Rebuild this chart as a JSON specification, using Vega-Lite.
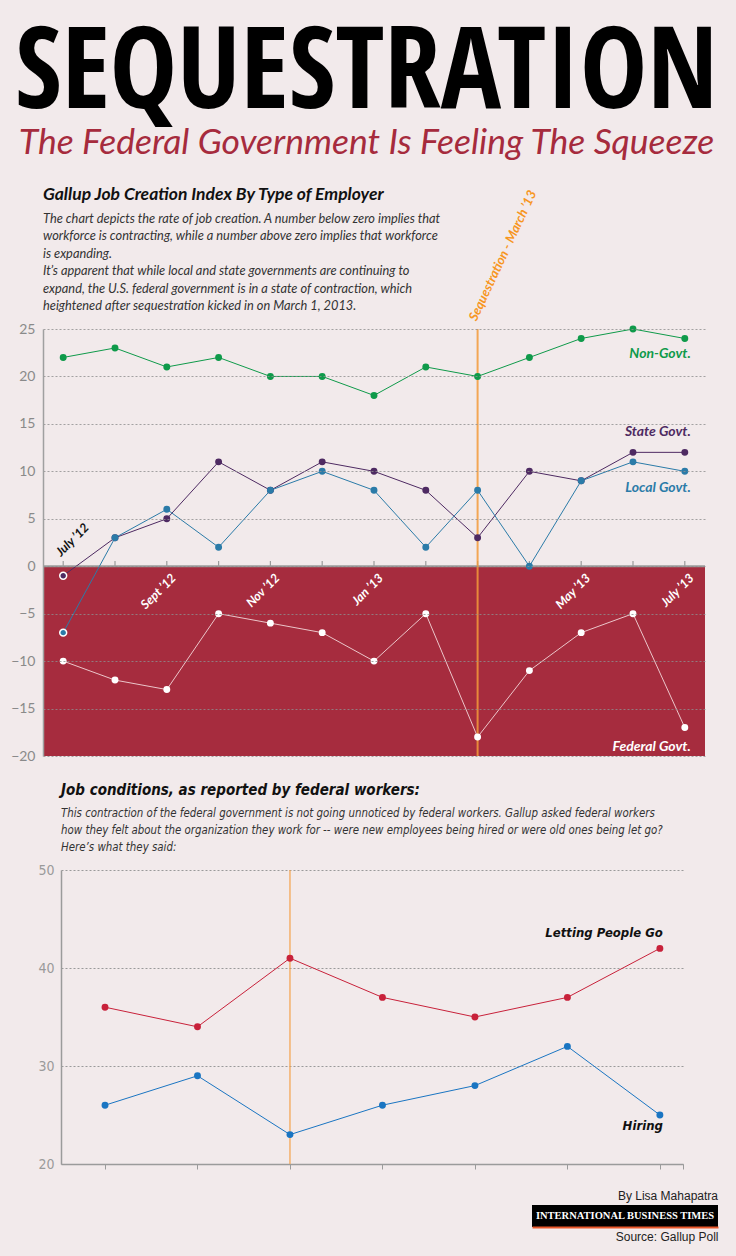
{
  "$schema": "https://vega.github.io/schema/vega-lite/v6.json",
  "background": "#f2eaeb",
  "padding": {"left": 7, "right": 18, "top": 18, "bottom": 20},
  "spacing": 19,
  "title": {
    "text": "SEQUESTRATION",
    "subtitle": "The Federal Government Is Feeling The Squeeze",
    "anchor": "middle",
    "dx": 4,
    "font": "Open Sans Condensed, DejaVu Sans Condensed",
    "fontSize": 113,
    "fontWeight": "bold",
    "color": "#000000",
    "subtitleFont": "Lato",
    "subtitleFontStyle": "italic",
    "subtitleFontSize": 35.5,
    "subtitleColor": "#a62b3d",
    "subtitlePadding": -6,
    "offset": 23.5
  },
  "resolve": {"scale": {"color": "independent", "fill": "independent", "stroke": "independent"}},
  "datasets": {
    "jobs": [
      {"month": "2012-07", "series": "Non-Govt.", "value": 22},
      {"month": "2012-08", "series": "Non-Govt.", "value": 23},
      {"month": "2012-09", "series": "Non-Govt.", "value": 21},
      {"month": "2012-10", "series": "Non-Govt.", "value": 22},
      {"month": "2012-11", "series": "Non-Govt.", "value": 20},
      {"month": "2012-12", "series": "Non-Govt.", "value": 20},
      {"month": "2013-01", "series": "Non-Govt.", "value": 18},
      {"month": "2013-02", "series": "Non-Govt.", "value": 21},
      {"month": "2013-03", "series": "Non-Govt.", "value": 20},
      {"month": "2013-04", "series": "Non-Govt.", "value": 22},
      {"month": "2013-05", "series": "Non-Govt.", "value": 24},
      {"month": "2013-06", "series": "Non-Govt.", "value": 25},
      {"month": "2013-07", "series": "Non-Govt.", "value": 24},
      {"month": "2012-07", "series": "State Govt.", "value": -1},
      {"month": "2012-08", "series": "State Govt.", "value": 3},
      {"month": "2012-09", "series": "State Govt.", "value": 5},
      {"month": "2012-10", "series": "State Govt.", "value": 11},
      {"month": "2012-11", "series": "State Govt.", "value": 8},
      {"month": "2012-12", "series": "State Govt.", "value": 11},
      {"month": "2013-01", "series": "State Govt.", "value": 10},
      {"month": "2013-02", "series": "State Govt.", "value": 8},
      {"month": "2013-03", "series": "State Govt.", "value": 3},
      {"month": "2013-04", "series": "State Govt.", "value": 10},
      {"month": "2013-05", "series": "State Govt.", "value": 9},
      {"month": "2013-06", "series": "State Govt.", "value": 12},
      {"month": "2013-07", "series": "State Govt.", "value": 12},
      {"month": "2012-07", "series": "Local Govt.", "value": -7},
      {"month": "2012-08", "series": "Local Govt.", "value": 3},
      {"month": "2012-09", "series": "Local Govt.", "value": 6},
      {"month": "2012-10", "series": "Local Govt.", "value": 2},
      {"month": "2012-11", "series": "Local Govt.", "value": 8},
      {"month": "2012-12", "series": "Local Govt.", "value": 10},
      {"month": "2013-01", "series": "Local Govt.", "value": 8},
      {"month": "2013-02", "series": "Local Govt.", "value": 2},
      {"month": "2013-03", "series": "Local Govt.", "value": 8},
      {"month": "2013-04", "series": "Local Govt.", "value": 0},
      {"month": "2013-05", "series": "Local Govt.", "value": 9},
      {"month": "2013-06", "series": "Local Govt.", "value": 11},
      {"month": "2013-07", "series": "Local Govt.", "value": 10},
      {"month": "2012-07", "series": "Federal Govt.", "value": -10},
      {"month": "2012-08", "series": "Federal Govt.", "value": -12},
      {"month": "2012-09", "series": "Federal Govt.", "value": -13},
      {"month": "2012-10", "series": "Federal Govt.", "value": -5},
      {"month": "2012-11", "series": "Federal Govt.", "value": -6},
      {"month": "2012-12", "series": "Federal Govt.", "value": -7},
      {"month": "2013-01", "series": "Federal Govt.", "value": -10},
      {"month": "2013-02", "series": "Federal Govt.", "value": -5},
      {"month": "2013-03", "series": "Federal Govt.", "value": -18},
      {"month": "2013-04", "series": "Federal Govt.", "value": -11},
      {"month": "2013-05", "series": "Federal Govt.", "value": -7},
      {"month": "2013-06", "series": "Federal Govt.", "value": -5},
      {"month": "2013-07", "series": "Federal Govt.", "value": -17}
    ],
    "fed": [
      {"idx": 0, "series": "Letting People Go", "value": 36},
      {"idx": 1, "series": "Letting People Go", "value": 34},
      {"idx": 2, "series": "Letting People Go", "value": 41},
      {"idx": 3, "series": "Letting People Go", "value": 37},
      {"idx": 4, "series": "Letting People Go", "value": 35},
      {"idx": 5, "series": "Letting People Go", "value": 37},
      {"idx": 6, "series": "Letting People Go", "value": 42},
      {"idx": 0, "series": "Hiring", "value": 26},
      {"idx": 1, "series": "Hiring", "value": 29},
      {"idx": 2, "series": "Hiring", "value": 23},
      {"idx": 3, "series": "Hiring", "value": 26},
      {"idx": 4, "series": "Hiring", "value": 28},
      {"idx": 5, "series": "Hiring", "value": 32},
      {"idx": 6, "series": "Hiring", "value": 25}
    ]
  },
  "vconcat": [
    {
      "spacing": 0,
      "hconcat": [
        {"width": 3, "height": 1, "data": {"values": [{}]}, "mark": "text", "encoding": {"text": {"value": ""}}},
        {
          "width": 662,
          "height": 427,
          "title": {
            "text": "Gallup Job Creation Index By Type of Employer",
            "subtitle": [
              "The chart depicts the rate of job creation. A number below zero implies that",
              "workforce is contracting, while a number above zero implies that workforce",
              "is expanding.",
              "It’s apparent that while local and state governments are continuing to",
              "expand, the U.S. federal government is in a state of  contraction, which",
              "heightened after sequestration kicked in on March 1, 2013."
            ],
            "anchor": "start",
            "frame": "group",
            "font": "Lato",
            "fontSize": 17.5,
            "fontStyle": "italic",
            "fontWeight": "bold",
            "color": "#111111",
            "subtitleFont": "Lato",
            "subtitleFontSize": 12.8,
            "subtitleFontStyle": "italic",
            "subtitleColor": "#333333",
            "subtitleLineHeight": 17.4,
            "subtitlePadding": 9,
            "offset": -124
          },
          "layer": [
            {
              "data": {"values": [{"top": 0, "bottom": -20}]},
              "mark": {"type": "rect", "color": "#a62c3e"},
              "encoding": {
                "x": {"value": 0},
                "x2": {"value": "width"},
                "y": {
                  "field": "top", "type": "quantitative",
                  "scale": {"domain": [-20, 25], "nice": false, "zero": false},
                  "axis": {
                    "values": [-20, -15, -10, -5, 0, 5, 10, 15, 20, 25],
                    "title": null, "ticks": false,
                    "domainColor": "#a0a0a0", "domainWidth": 1.5,
                    "gridColor": "#8f8f8f", "gridDash": [2, 2], "gridOpacity": 0.8,
                    "labelColor": "#8a8a8a", "labelFont": "Lato", "labelFontSize": 14,
                    "labelPadding": 8, "zindex": 1
                  }
                },
                "y2": {"field": "bottom"}
              }
            },
            {
              "data": {"values": [{"top": 0}]},
              "mark": {"type": "rule", "color": "#9b9b9b", "strokeWidth": 2},
              "encoding": {"y": {"field": "top", "type": "quantitative"}}
            },
            {
              "data": {"name": "jobs"},
              "transform": [{"filter": "datum.series === 'Non-Govt.'"}],
              "mark": {"type": "rule", "color": "#9b9b9b", "strokeWidth": 1.2},
              "encoding": {
                "x": {"field": "month", "type": "ordinal", "scale": {"type": "point", "padding": 0.39}, "axis": null},
                "y": {"datum": 0},
                "y2": {"datum": 0.55}
              }
            },
            {
              "data": {"values": [{"month": "2013-03", "event": "Sequestration - March ’13"}]},
              "mark": {"type": "rule", "color": "#f39a3a", "strokeWidth": 2, "opacity": 0.85},
              "encoding": {"x": {"field": "month", "type": "ordinal", "axis": null}}
            },
            {
              "data": {"values": [{"month": "2013-03", "event": "Sequestration - March ’13"}]},
              "mark": {"type": "text", "angle": -65, "align": "left", "baseline": "alphabetic", "dx": 6, "dy": -4, "font": "Lato", "fontStyle": "italic", "fontWeight": "bold", "fontSize": 13, "color": "#f7961f"},
              "encoding": {
                "x": {"field": "month", "type": "ordinal", "axis": null},
                "y": {"datum": 25},
                "text": {"field": "event"}
              }
            },
            {
              "data": {"name": "jobs"},
              "mark": {"type": "line", "strokeWidth": 1},
              "encoding": {
                "x": {"field": "month", "type": "ordinal", "axis": null},
                "y": {"field": "value", "type": "quantitative"},
                "stroke": {
                  "field": "series", "type": "nominal", "legend": null,
                  "scale": {"domain": ["Non-Govt.", "State Govt.", "Local Govt.", "Federal Govt."], "range": ["#0f9a4a", "#4e2a62", "#2b7ba8", "#ecc6ca"]}
                }
              }
            },
            {
              "data": {"name": "jobs"},
              "mark": {"type": "point", "filled": true, "size": 48, "strokeWidth": 1.5, "opacity": 1},
              "encoding": {
                "x": {"field": "month", "type": "ordinal", "axis": null},
                "y": {"field": "value", "type": "quantitative"},
                "fill": {
                  "field": "series", "type": "nominal", "legend": null,
                  "scale": {"domain": ["Non-Govt.", "State Govt.", "Local Govt.", "Federal Govt."], "range": ["#0f9a4a", "#4e2a62", "#2b7ba8", "#ffffff"]}
                },
                "stroke": {
                  "condition": {"test": "datum.value < 0 && datum.series !== 'Federal Govt.'", "value": "#ffffff"},
                  "value": "transparent"
                }
              }
            },
            {
              "data": {"name": "jobs"},
              "transform": [{"filter": "datum.series === 'Non-Govt.' && datum.month === '2013-07'"}],
              "mark": {"type": "text", "align": "right", "baseline": "middle", "dx": 6, "dy": 15.5, "font": "Lato", "fontSize": 14, "fontStyle": "italic", "fontWeight": "bold", "color": "#0f9a4a"},
              "encoding": {"x": {"field": "month", "type": "ordinal", "axis": null}, "y": {"field": "value", "type": "quantitative"}, "text": {"field": "series"}}
            },
            {
              "data": {"name": "jobs"},
              "transform": [{"filter": "datum.series === 'State Govt.' && datum.month === '2013-07'"}],
              "mark": {"type": "text", "align": "right", "baseline": "middle", "dx": 6, "dy": -20, "font": "Lato", "fontSize": 14, "fontStyle": "italic", "fontWeight": "bold", "color": "#4e2a62"},
              "encoding": {"x": {"field": "month", "type": "ordinal", "axis": null}, "y": {"field": "value", "type": "quantitative"}, "text": {"field": "series"}}
            },
            {
              "data": {"name": "jobs"},
              "transform": [{"filter": "datum.series === 'Local Govt.' && datum.month === '2013-07'"}],
              "mark": {"type": "text", "align": "right", "baseline": "middle", "dx": 6, "dy": 17, "font": "Lato", "fontSize": 14, "fontStyle": "italic", "fontWeight": "bold", "color": "#2b7ba8"},
              "encoding": {"x": {"field": "month", "type": "ordinal", "axis": null}, "y": {"field": "value", "type": "quantitative"}, "text": {"field": "series"}}
            },
            {
              "data": {"name": "jobs"},
              "transform": [{"filter": "datum.series === 'Federal Govt.' && datum.month === '2013-07'"}],
              "mark": {"type": "text", "align": "right", "baseline": "middle", "dx": 6, "dy": 19, "font": "Lato", "fontSize": 14, "fontStyle": "italic", "fontWeight": "bold", "color": "#ffffff"},
              "encoding": {"x": {"field": "month", "type": "ordinal", "axis": null}, "y": {"field": "value", "type": "quantitative"}, "text": {"field": "series"}}
            },
            {
              "data": {"values": [{"month": "2012-07", "label": "July ’12"}]},
              "mark": {"type": "text", "angle": -45, "align": "left", "baseline": "alphabetic", "dx": 5, "dy": -8, "font": "Lato", "fontSize": 12.5, "fontStyle": "italic", "fontWeight": "bold", "color": "#111111"},
              "encoding": {"x": {"field": "month", "type": "ordinal", "axis": null}, "y": {"datum": 0}, "text": {"field": "label"}}
            },
            {
              "data": {"values": [
                {"month": "2012-09", "label": "Sept ’12"},
                {"month": "2012-11", "label": "Nov ’12"},
                {"month": "2013-01", "label": "Jan ’13"},
                {"month": "2013-05", "label": "May ’13"},
                {"month": "2013-07", "label": "July ’13"}
              ]},
              "mark": {"type": "text", "angle": -45, "align": "right", "baseline": "alphabetic", "dx": -2, "dy": 16, "font": "Lato", "fontSize": 12.5, "fontStyle": "italic", "fontWeight": "bold", "color": "#ffffff"},
              "encoding": {"x": {"field": "month", "type": "ordinal", "axis": null}, "y": {"datum": 0}, "text": {"field": "label"}}
            }
          ]
        }
      ]
    },
    {
      "spacing": 0,
      "hconcat": [
        {"width": 30, "height": 1, "data": {"values": [{}]}, "mark": "text", "encoding": {"text": {"value": ""}}},
        {
          "width": 622,
          "height": 294,
          "title": {
            "text": "Job conditions, as reported by federal workers:",
            "subtitle": [
              "This contraction of the federal government is not going unnoticed by federal workers.  Gallup asked federal workers",
              "how they felt about the organization they work for -- were new employees being hired  or were old ones being let go?",
              "Here’s what they said:"
            ],
            "anchor": "start",
            "frame": "group",
            "font": "DejaVu Sans Condensed",
            "fontSize": 15,
            "fontStyle": "italic",
            "fontWeight": "bold",
            "color": "#111111",
            "subtitleFont": "DejaVu Sans Condensed",
            "subtitleFontSize": 11.4,
            "subtitleFontStyle": "italic",
            "subtitleColor": "#333333",
            "subtitleLineHeight": 17,
            "subtitlePadding": 10,
            "offset": 10
          },
          "layer": [
            {
              "data": {"values": [{"idx": 2}]},
              "mark": {"type": "rule", "color": "#f5a24a", "strokeWidth": 1.2},
              "encoding": {
                "x": {
                  "field": "idx", "type": "quantitative",
                  "scale": {"domain": [-0.476, 6.25], "nice": false, "zero": false},
                  "axis": {
                    "values": [0, 1, 2, 3, 4, 5, 6, 6.25], "labels": false, "ticks": true,
                    "tickSize": 5, "tickColor": "#9b9b9b", "tickWidth": 1,
                    "domainColor": "#9b9b9b", "domainWidth": 1.5, "grid": false, "title": null
                  }
                }
              }
            },
            {
              "data": {"name": "fed"},
              "mark": {"type": "line", "strokeWidth": 1},
              "encoding": {
                "x": {"field": "idx", "type": "quantitative"},
                "y": {
                  "field": "value", "type": "quantitative",
                  "scale": {"domain": [20, 50], "nice": false, "zero": false},
                  "axis": {
                    "values": [20, 30, 40, 50], "title": null, "ticks": false,
                    "domainColor": "#9b9b9b", "domainWidth": 1.5,
                    "gridColor": "#9a9a9a", "gridDash": [2, 2],
                    "labelColor": "#9a9a9a", "labelFont": "DejaVu Sans Condensed", "labelFontSize": 14,
                    "labelPadding": 7
                  }
                },
                "color": {
                  "field": "series", "type": "nominal", "legend": null,
                  "scale": {"domain": ["Letting People Go", "Hiring"], "range": ["#c8213a", "#1a75c2"]}
                }
              }
            },
            {
              "data": {"name": "fed"},
              "mark": {"type": "point", "filled": true, "size": 48, "opacity": 1},
              "encoding": {
                "x": {"field": "idx", "type": "quantitative"},
                "y": {"field": "value", "type": "quantitative"},
                "color": {
                  "field": "series", "type": "nominal", "legend": null,
                  "scale": {"domain": ["Letting People Go", "Hiring"], "range": ["#c8213a", "#1a75c2"]}
                }
              }
            },
            {
              "data": {"name": "fed"},
              "transform": [{"filter": "datum.series === 'Letting People Go' && datum.idx === 6"}],
              "mark": {"type": "text", "align": "right", "baseline": "middle", "dx": 3, "dy": -15.5, "font": "DejaVu Sans Condensed", "fontSize": 13, "fontStyle": "italic", "fontWeight": "bold", "color": "#111111"},
              "encoding": {"x": {"field": "idx", "type": "quantitative"}, "y": {"field": "value", "type": "quantitative"}, "text": {"field": "series"}}
            },
            {
              "data": {"name": "fed"},
              "transform": [{"filter": "datum.series === 'Hiring' && datum.idx === 6"}],
              "mark": {"type": "text", "align": "right", "baseline": "middle", "dx": 3, "dy": 11, "font": "DejaVu Sans Condensed", "fontSize": 13, "fontStyle": "italic", "fontWeight": "bold", "color": "#111111"},
              "encoding": {"x": {"field": "idx", "type": "quantitative"}, "y": {"field": "value", "type": "quantitative"}, "text": {"field": "series"}}
            }
          ]
        }
      ]
    },
    {
      "spacing": 0,
      "hconcat": [
        {"width": 525, "height": 1, "data": {"values": [{}]}, "mark": "text", "encoding": {"text": {"value": ""}}},
        {
          "width": 186,
          "height": 22,
          "view": {"fill": "#000000", "stroke": null},
          "title": {
            "text": "By Lisa Mahapatra",
            "anchor": "end",
            "frame": "group",
            "font": "Liberation Sans",
            "fontSize": 12,
            "fontWeight": "normal",
            "color": "#222222",
            "offset": 2
          },
          "data": {"values": [{"brand": "INTERNATIONAL BUSINESS TIMES"}]},
          "mark": {"type": "text", "font": "Liberation Serif", "fontWeight": "bold", "fontSize": 10.5, "color": "#ffffff"},
          "encoding": {
            "x": {
              "datum": 0,
              "scale": {"domain": [-1, 1]},
              "axis": {
                "title": "Source: Gallup Poll", "titleAnchor": "end",
                "labels": false, "ticks": false, "grid": false,
                "domainColor": "#e8572a", "domainWidth": 2,
                "titleFont": "Liberation Sans", "titleFontWeight": "normal", "titleFontSize": 12,
                "titleColor": "#222222", "titlePadding": 4
              }
            },
            "text": {"field": "brand"}
          }
        }
      ]
    }
  ],
  "config": {
    "view": {"stroke": null}
  }
}
